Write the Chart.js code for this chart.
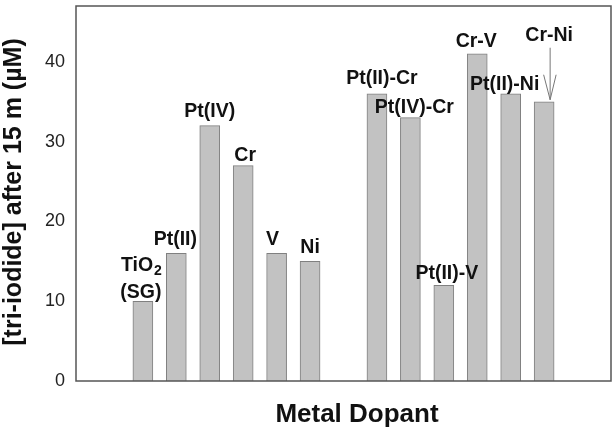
<!DOCTYPE html>
<html>
<head>
<meta charset="utf-8">
<script src="https://cdn.jsdelivr.net/npm/chart.js@4.4.0/dist/chart.umd.min.js"></script>
<style>
    body { margin: 0; background: #fff; }
    #wrap { width: 613px; height: 431px; position: relative; }
</style>
</head>
<body>
<div id="wrap"><canvas id="dopantChart"></canvas></div>
<script>
// dopant names (one per bar), "_" marks a subscript char, "\n" a new line
const dopantLabels = ['TiO_2\n(SG)', 'Pt(II)', 'Pt(IV)', 'Cr', 'V', 'Ni',
    'Pt(II)-Cr', 'Pt(IV)-Cr', 'Pt(II)-V', 'Cr-V', 'Pt(II)-Ni', 'Cr-Ni'];
// slot on the x axis, slot 7 is left empty between single and mixed dopants
const slotPositions = [1, 2, 3, 4, 5, 6, 8, 9, 10, 11, 12, 13];
// [tri-iodide] after 15 m (uM)
const triIodide = [10, 16, 32, 27, 16, 15, 36, 33, 12, 41, 36, 35];
const yTickValues = [0, 10, 20, 30, 40];

// label placement: [dx from bar centre, baseline height above bar top]
const labelOffsets = [[-2, 3], [-1, 8], [0, 9], [2, 5], [-4, 8], [0, 8],
    [5, 10], [4, 5], [3, 6], [-1, 7], [-6, 4], [5, 61]];
const arrowIndex = 11;

const labelFont = 'bold 19.5px "Liberation Sans", Arial, sans-serif';
const subFont = 'bold 14px "Liberation Sans", Arial, sans-serif';

function drawLine(ctx, text, cx, y) {
    let parts = text.split('_');
    if (parts.length == 1) {
        ctx.textAlign = 'center';
        ctx.fillText(text, cx, y);
        return;
    }
    // main text + one subscript character
    let main = parts[0], sub = parts[1].charAt(0);
    ctx.font = labelFont;
    let wMain = ctx.measureText(main).width;
    ctx.font = subFont;
    let wSub = ctx.measureText(sub).width;
    let x0 = cx - (wMain + wSub) / 2;
    ctx.textAlign = 'left';
    ctx.font = labelFont;
    ctx.fillText(main, x0, y);
    ctx.font = subFont;
    ctx.fillText(sub, x0 + wMain + 1, y + 4);
    ctx.font = labelFont;
}

const barLabels = {
    id: 'barLabels',
    afterDatasetsDraw(chart) {
        const ctx = chart.ctx;
        const xs = chart.scales.x, ys = chart.scales.y;
        const area = chart.chartArea;

        // frame round the plot
        ctx.save();
        ctx.strokeStyle = '#555';
        ctx.lineWidth = 1.5;
        ctx.strokeRect(area.left, area.top, area.right - area.left, area.bottom - area.top);
        ctx.restore();

        ctx.save();
        ctx.fillStyle = '#111';
        ctx.textBaseline = 'alphabetic';
        ctx.font = labelFont;
        for (i = 0; i < dopantLabels.length; i++) {
            let cx = xs.getPixelForValue(slotPositions[i]);
            let top = ys.getPixelForValue(triIodide[i]);
            let lines = dopantLabels[i].split('\n');
            let baseY = top - labelOffsets[i][1];
            for (let j = 0; j < lines.length; j++) {
                let y = baseY - (lines.length - 1 - j) * 27;
                drawLine(ctx, lines[j], cx + labelOffsets[i][0], y);
            }
            if (i == arrowIndex) {
                let ax = cx + 6;
                ctx.strokeStyle = '#777';
                ctx.lineWidth = 1;
                ctx.beginPath();
                ctx.moveTo(ax, top - 54);
                ctx.lineTo(ax, top - 2);
                ctx.moveTo(ax - 6.5, top - 27);
                ctx.lineTo(ax, top - 2);
                ctx.lineTo(ax + 6, top - 27);
                ctx.stroke();
            }
        }
        ctx.restore();
    },
    afterDraw(chart) {
        const ctx = chart.ctx;
        ctx.save();
        ctx.fillStyle = '#111';
        ctx.font = 'bold 26px "Liberation Sans", Arial, sans-serif';
        ctx.textAlign = 'center';
        ctx.textBaseline = 'alphabetic';
        ctx.fillText('Metal Dopant', 357, 422);

        ctx.translate(14, 192);
        ctx.rotate(-Math.PI / 2);
        ctx.font = 'bold 25px "Liberation Sans", Arial, sans-serif';
        ctx.textBaseline = 'middle';
        ctx.fillText('[tri-iodide] after 15 m (\u00b5M)', 0, 0);
        ctx.restore();
    }
};

let dopantChartEl = document.getElementById("dopantChart").getContext('2d');
let dopantChart = new Chart(dopantChartEl, {
    type: 'bar',
    data: {
        datasets: [
            {
                label: 'Tri-iodide',
                data: slotPositions.map((x, i) => ({ x: x, y: triIodide[i] })),
                backgroundColor: '#c2c2c2',
                borderColor: '#808080',
                borderWidth: 1,
                barThickness: 20
            },
        ]
    },
    options: {
        animation: false,
        responsive: true,
        maintainAspectRatio: false,
        layout: {
            padding: { top: 6, right: 2, bottom: 50, left: 0 }
        },
        scales: {
            x: {
                type: 'linear',
                display: false,
                min: -1,
                max: 15,
                offset: false
            },
            y: {
                min: 0,
                max: 47,
                afterFit: (scale) => {
                    scale.width = 76;
                    scale.paddingTop = 0;
                    scale.paddingBottom = 0;
                },
                afterBuildTicks: (scale) => {
                    scale.ticks = yTickValues.map(v => ({ value: v }));
                },
                grid: { display: false, drawTicks: false },
                border: { display: false },
                ticks: {
                    padding: 11,
                    color: '#222',
                    font: { family: '"Liberation Sans", Arial, sans-serif', size: 18 }
                }
            },
        },
        plugins: {
            legend: { display: false },
            tooltip: { enabled: false },
        },
    },
    plugins: [barLabels]
});
</script>
</body>
</html>
